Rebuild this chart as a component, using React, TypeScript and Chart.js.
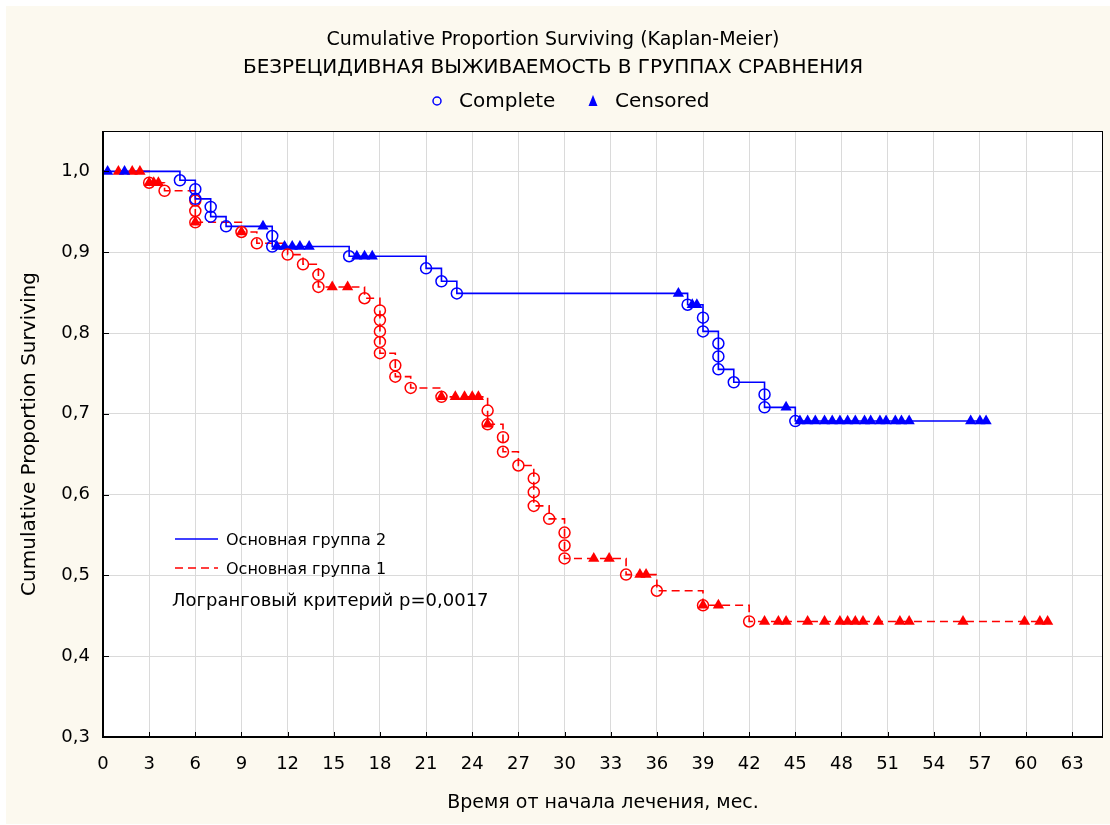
import React, { useEffect, useRef } from 'react';
import { Chart, registerables } from 'chart.js';

Chart.register(...registerables);

// ---------- text ----------
const titleLine1 = 'Cumulative Proportion Surviving (Kaplan-Meier)';
const titleLine2 = 'БЕЗРЕЦИДИВНАЯ ВЫЖИВАЕМОСТЬ В ГРУППАХ СРАВНЕНИЯ';
const xAxisTitle = 'Время от начала лечения, мес.';
const yAxisTitle = 'Cumulative Proportion Surviving';
const completeLabel = 'Complete';
const censoredLabel = 'Censored';
const group2Label = 'Основная группа 2';
const group1Label = 'Основная группа 1';
const logRankText = 'Логранговый критерий p=0,0017';

// ---------- ticks ----------
const xTickValues = [0, 3, 6, 9, 12, 15, 18, 21, 24, 27, 30, 33, 36, 39, 42, 45, 48, 51, 54, 57, 60, 63];
const yTickValues = [0.3, 0.4, 0.5, 0.6, 0.7, 0.8, 0.9, 1.0];

// ---------- group 2 (blue, solid) ----------
const group2EventTimes = [5, 6, 6, 7, 7, 8, 11, 11, 16, 21, 22, 23, 38, 39, 39, 40, 40, 40, 41, 43, 43, 45];
const group2Levels = [0.989, 0.978, 0.966, 0.956, 0.944, 0.932, 0.920, 0.907, 0.895, 0.880, 0.864, 0.849, 0.835, 0.819, 0.802, 0.787, 0.771, 0.755, 0.739, 0.724, 0.708, 0.691];
const group2Censored = [0.3, 1.4, 10.4, 11.3, 11.8, 12.3, 12.8, 13.4, 16.5, 17.0, 17.5, 37.4, 38.3, 38.6, 44.4, 45.3, 45.8, 46.3, 46.9, 47.4, 47.9, 48.4, 48.9, 49.5, 49.9, 50.5, 50.9, 51.5, 51.9, 52.4, 56.4, 57.0, 57.4];

// ---------- group 1 (red, dashed) ----------
const group1EventTimes = [3, 4, 6, 6, 6, 9, 10, 12, 13, 14, 14, 17, 18, 18, 18, 18, 18, 19, 19, 20, 22, 25, 25, 26, 26, 27, 28, 28, 28, 29, 30, 30, 30, 34, 36, 39, 42];
const group1Levels = [0.986, 0.976, 0.964, 0.951, 0.937, 0.925, 0.911, 0.897, 0.885, 0.872, 0.857, 0.843, 0.828, 0.816, 0.802, 0.789, 0.775, 0.760, 0.746, 0.732, 0.721, 0.704, 0.687, 0.671, 0.653, 0.636, 0.620, 0.603, 0.586, 0.570, 0.553, 0.537, 0.521, 0.501, 0.481, 0.463, 0.443];
const group1Censored = [1.0, 1.9, 2.4, 3.0, 3.3, 3.6, 6.0, 9.0, 14.9, 15.9, 22.0, 22.9, 23.5, 24.0, 24.4, 25.0, 31.9, 32.9, 34.9, 35.3, 39.0, 40.0, 43.0, 43.9, 44.4, 45.8, 46.9, 47.9, 48.4, 48.9, 49.4, 50.4, 51.8, 52.4, 55.9, 59.9, 60.9, 61.4];

const BLUE = '#0000ff';
const RED = '#ff0000';
const FONT = "'DejaVu Sans', sans-serif";
const CREAM = '#fcf9ef';

function stepCurve(times: number[], levels: number[], censored: number[]) {
  const end = Math.max(...times, ...censored);
  const pts = [{ x: 0, y: 1 }];
  times.forEach((t, i) => pts.push({ x: t, y: levels[i] }));
  pts.push({ x: end, y: levels[levels.length - 1] });
  return pts;
}
function levelAt(times: number[], levels: number[], t: number) {
  let v = 1;
  for (let i = 0; i < times.length; i++) if (times[i] <= t) v = levels[i];
  return v;
}
function eventPoints(times: number[], levels: number[]) {
  return times.map((t, i) => ({ x: t, y: levels[i] }));
}
function censorPoints(times: number[], levels: number[], censored: number[]) {
  return censored.map((t) => ({ x: t, y: levelAt(times, levels, t) }));
}

const decorPlugin = {
  id: 'decor',
  beforeDraw(chart: any) {
    const { ctx, chartArea: a } = chart;
    ctx.save();
    ctx.fillStyle = '#ffffff';
    ctx.fillRect(0, 0, chart.width, chart.height);
    ctx.fillStyle = CREAM;
    ctx.fillRect(6, 6, chart.width - 6, chart.height - 7);
    ctx.fillStyle = '#ffffff';
    ctx.fillRect(a.left, a.top, a.right - a.left, a.bottom - a.top);
    ctx.restore();
  },
  afterDraw(chart: any) {
    const { ctx, chartArea: a, scales } = chart;
    ctx.save();
    // frame
    ctx.strokeStyle = '#000';
    ctx.lineWidth = 1;
    ctx.beginPath();
    ctx.moveTo(a.left, a.top + 0.5);
    ctx.lineTo(a.right, a.top + 0.5);
    ctx.moveTo(a.right - 0.5, a.top);
    ctx.lineTo(a.right - 0.5, a.bottom);
    ctx.stroke();
    ctx.lineWidth = 2;
    ctx.beginPath();
    ctx.moveTo(a.left, a.top);
    ctx.lineTo(a.left, a.bottom);
    ctx.lineTo(a.right, a.bottom);
    ctx.stroke();
    // inner tick marks
    ctx.lineWidth = 1;
    ctx.beginPath();
    xTickValues.forEach((v) => {
      const px = Math.round(scales.x.getPixelForValue(v)) + 0.5;
      ctx.moveTo(px, a.bottom);
      ctx.lineTo(px, a.bottom - 5);
    });
    yTickValues.forEach((v) => {
      const py = Math.round(scales.y.getPixelForValue(v)) + 0.5;
      ctx.moveTo(a.left, py);
      ctx.lineTo(a.left + 6, py);
    });
    ctx.stroke();

    // top legend
    ctx.fillStyle = '#000';
    ctx.font = `20px ${FONT}`;
    ctx.textBaseline = 'middle';
    ctx.textAlign = 'left';
    ctx.strokeStyle = BLUE;
    ctx.lineWidth = 1.5;
    ctx.beginPath();
    ctx.arc(437, 101, 4, 0, Math.PI * 2);
    ctx.stroke();
    ctx.fillText(completeLabel, 459, 102);
    ctx.fillStyle = BLUE;
    ctx.beginPath();
    ctx.moveTo(593, 95);
    ctx.lineTo(597.5, 106);
    ctx.lineTo(588.5, 106);
    ctx.closePath();
    ctx.fill();
    ctx.fillStyle = '#000';
    ctx.fillText(censoredLabel, 615, 102);

    // inner legend
    ctx.font = `16px ${FONT}`;
    ctx.lineWidth = 1.5;
    ctx.strokeStyle = BLUE;
    ctx.beginPath();
    ctx.moveTo(175, 539);
    ctx.lineTo(218, 539);
    ctx.stroke();
    ctx.strokeStyle = RED;
    ctx.setLineDash([8, 5]);
    ctx.beginPath();
    ctx.moveTo(175, 568);
    ctx.lineTo(218, 568);
    ctx.stroke();
    ctx.setLineDash([]);
    ctx.fillStyle = '#000';
    ctx.fillText(group2Label, 226, 541);
    ctx.fillText(group1Label, 226, 570);
    ctx.font = `18px ${FONT}`;
    ctx.fillText(logRankText, 172, 601);
    ctx.restore();
  },
};

export default function App() {
  const canvasRef = useRef<HTMLCanvasElement | null>(null);

  useEffect(() => {
    if (!canvasRef.current) return;
    const tickFont = { family: FONT, size: 18, weight: 'normal' as const };
    const chart = new Chart(canvasRef.current, {
      type: 'line',
      data: {
        datasets: [
          {
            label: completeLabel,
            data: eventPoints(group2EventTimes, group2Levels),
            showLine: false,
            pointStyle: 'circle',
            pointRadius: 5.5,
            pointBorderWidth: 1.5,
            borderColor: BLUE,
            backgroundColor: 'rgba(0,0,0,0)',
          },
          {
            label: completeLabel,
            data: eventPoints(group1EventTimes, group1Levels),
            showLine: false,
            pointStyle: 'circle',
            pointRadius: 5.5,
            pointBorderWidth: 1.5,
            borderColor: RED,
            backgroundColor: 'rgba(0,0,0,0)',
          },
          {
            label: censoredLabel,
            data: censorPoints(group2EventTimes, group2Levels, group2Censored),
            showLine: false,
            pointStyle: 'triangle',
            pointRadius: 6.5,
            pointBorderWidth: 0,
            borderColor: BLUE,
            backgroundColor: BLUE,
          },
          {
            label: censoredLabel,
            data: censorPoints(group1EventTimes, group1Levels, group1Censored),
            showLine: false,
            pointStyle: 'triangle',
            pointRadius: 6.5,
            pointBorderWidth: 0,
            borderColor: RED,
            backgroundColor: RED,
          },
          {
            label: group2Label,
            data: stepCurve(group2EventTimes, group2Levels, group2Censored),
            stepped: 'before',
            borderColor: BLUE,
            borderWidth: 1.6,
            pointRadius: 0,
            fill: false,
          },
          {
            label: group1Label,
            data: stepCurve(group1EventTimes, group1Levels, group1Censored),
            stepped: 'before',
            borderColor: RED,
            borderWidth: 1.6,
            borderDash: [8, 5],
            pointRadius: 0,
            fill: false,
          },
        ],
      },
      options: {
        animation: false,
        responsive: false,
        devicePixelRatio: 1,
        events: [],
        layout: { padding: { left: 0, right: 4, top: 0, bottom: 0 } },
        plugins: {
          legend: { display: false },
          tooltip: { enabled: false },
          title: {
            display: true,
            text: titleLine1,
            color: '#000',
            font: { family: FONT, size: 19, weight: 'normal', lineHeight: 28 / 19 },
            padding: { top: 26, bottom: 0 },
          },
          subtitle: {
            display: true,
            text: titleLine2,
            color: '#000',
            font: { family: FONT, size: 20, weight: 'normal', lineHeight: 28 / 20 },
            padding: { top: 0, bottom: 49 },
          },
        },
        scales: {
          x: {
            type: 'linear',
            min: 0,
            max: 65,
            afterBuildTicks: (s: any) => {
              s.ticks = xTickValues.map((v) => ({ value: v }));
            },
            afterFit: (s: any) => {
              s.height = 88;
            },
            ticks: {
              color: '#000',
              font: tickFont,
              padding: 17,
              maxRotation: 0,
              autoSkip: false,
              callback: (v: any) => String(v),
            },
            grid: { color: '#dadada', lineWidth: 1, drawTicks: false },
            border: { display: false },
            title: {
              display: true,
              text: xAxisTitle,
              color: '#000',
              font: { family: FONT, size: 19, weight: 'normal' },
              padding: { top: 0, bottom: 11 },
            },
          },
          y: {
            type: 'linear',
            min: 0.3,
            max: 1.05,
            afterBuildTicks: (s: any) => {
              s.ticks = yTickValues.map((v) => ({ value: v }));
            },
            afterFit: (s: any) => {
              s.width = 103;
            },
            ticks: {
              color: '#000',
              font: tickFont,
              padding: 13,
              callback: (v: any) => Number(v).toFixed(1).replace('.', ','),
            },
            grid: { color: '#dadada', lineWidth: 1, drawTicks: false },
            border: { display: false },
            title: {
              display: true,
              text: yAxisTitle,
              color: '#000',
              font: { family: FONT, size: 20, weight: 'normal' },
              padding: { top: 18, bottom: 0 },
            },
          },
        },
      },
      plugins: [decorPlugin],
    } as any);
    return () => chart.destroy();
  }, []);

  return (
    <div style={{ position: 'fixed', left: 0, top: 0, width: 1110, height: 825, background: '#fff' }}>
      <canvas ref={canvasRef} width={1110} height={825} style={{ display: 'block', width: 1110, height: 825 }} />
    </div>
  );
}
